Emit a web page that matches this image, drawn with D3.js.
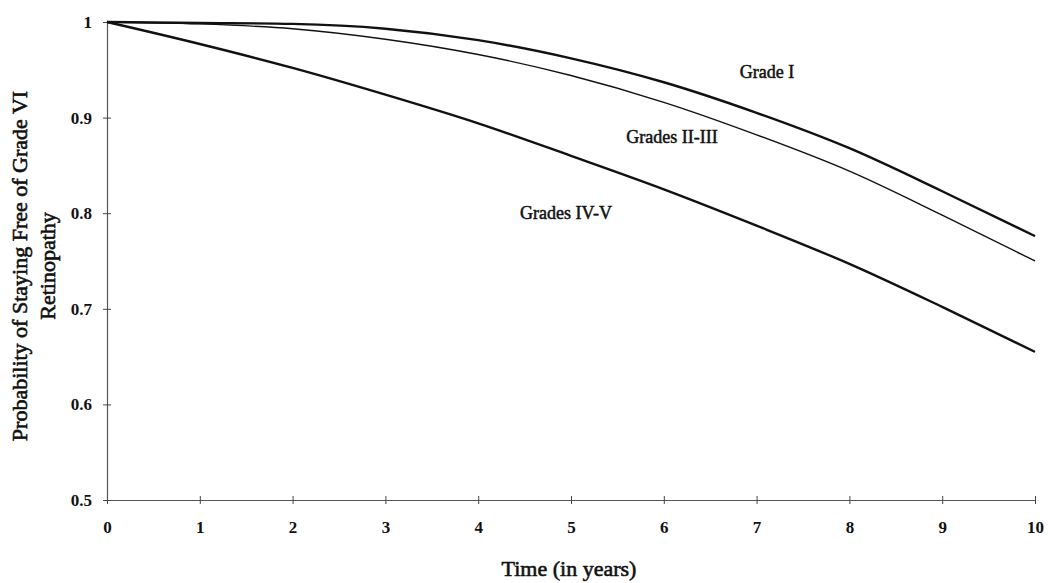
<html>

<head>
    <style>
        body { margin: 0; background: #fff; }
        text { font-family: "Liberation Serif", "Times New Roman", serif; }
    </style>
</head>

<body>
    <svg id="chart"></svg>
</body>
<script src="https://cdn.jsdelivr.net/npm/d3@7"></script>
<script>
    // Data
    let years = [0, 1, 2, 3, 4, 5, 6, 7, 8, 9, 10]
    let gradeI = [1, 0.999, 0.998, 0.993, 0.981, 0.962, 0.937, 0.905, 0.868, 0.823, 0.776]
    let gradesIIIII = [1, 0.998, 0.993, 0.982, 0.966, 0.944, 0.916, 0.882, 0.844, 0.798, 0.750]
    let gradesIVV = [1, 0.977, 0.952, 0.924, 0.894, 0.860, 0.825, 0.787, 0.747, 0.702, 0.655]
    let yTicks = [0.5, 0.6, 0.7, 0.8, 0.9, 1]
    let xTicks = [0, 1, 2, 3, 4, 5, 6, 7, 8, 9, 10]

    let series = [
        { name: "Grade I", values: gradeI, width: 2.4, lx: 767, ly: 78 },
        { name: "Grades II-III", values: gradesIIIII, width: 1.4, lx: 672, ly: 143 },
        { name: "Grades IV-V", values: gradesIVV, width: 2.4, lx: 566, ly: 219 }
    ]

    let width = 1048, height = 583
    let margin = { top: 22, right: 13, bottom: 83, left: 107 }

    let svg = d3.select("#chart").attr("width", width).attr("height", height)

    let x = d3.scaleLinear().domain([0, 10]).range([margin.left, width - margin.right])
    let y = d3.scaleLinear().domain([0.5, 1]).range([height - margin.bottom, margin.top])

    // axes
    let xAxis = svg.append("g")
        .attr("transform", `translate(0,${y(0.5)})`)
        .call(d3.axisBottom(x).tickValues(xTicks).tickFormat(d3.format("d")).tickSize(0).tickPadding(21))
    xAxis.select(".domain").attr("stroke", "#555").attr("stroke-width", 1.2)
    xAxis.selectAll(".tick").append("line").attr("y1", -4).attr("y2", 4).attr("stroke", "#444")

    let yAxis = svg.append("g")
        .attr("transform", `translate(${x(0)},0)`)
        .call(d3.axisLeft(y).tickValues(yTicks).tickFormat(d => d === 1 ? "1" : d3.format(".1f")(d)).tickSize(0).tickPadding(15))
    yAxis.select(".domain").attr("stroke", "#555").attr("stroke-width", 1.2)
    yAxis.selectAll(".tick").append("line").attr("x1", -4).attr("x2", 4).attr("stroke", "#444")

    svg.selectAll(".tick text")
        .attr("font-family", "'Liberation Serif', serif")
        .attr("font-size", 17)
        .attr("font-weight", "bold")
        .attr("fill", "#111")

    // lines
    let line = d3.line()
        .x((d, i) => x(years[i]))
        .y(d => y(d))
        .curve(d3.curveMonotoneX)

    svg.selectAll(".curve")
        .data(series)
        .enter().append("path")
        .attr("class", "curve")
        .attr("d", d => line(d.values))
        .attr("fill", "none")
        .attr("stroke", "#111")
        .attr("stroke-width", d => d.width)

    svg.selectAll(".label")
        .data(series)
        .enter().append("text")
        .attr("class", "label")
        .attr("x", d => d.lx)
        .attr("y", d => d.ly)
        .attr("text-anchor", "middle")
        .attr("font-size", 18)
        .attr("fill", "#111")
        .attr("stroke", "#111")
        .attr("stroke-width", 0.5)
        .text(d => d.name)

    // titles
    svg.append("text")
        .attr("x", 569)
        .attr("y", 576)
        .attr("text-anchor", "middle")
        .attr("font-size", 22)
        .attr("fill", "#111")
        .attr("stroke", "#111")
        .attr("stroke-width", 0.6)
        .text("Time (in years)")

    let yTitle = svg.append("text")
        .attr("transform", "translate(27,266) rotate(-90)")
        .attr("text-anchor", "middle")
        .attr("font-size", 22)
        .attr("fill", "#111")
        .attr("stroke", "#111")
        .attr("stroke-width", 0.6)
    yTitle.append("tspan").attr("x", 0).attr("dy", 0).text("Probability of Staying Free of Grade VI")
    yTitle.append("tspan").attr("x", 0).attr("dy", 28).text("Retinopathy")
</script>

</html>
